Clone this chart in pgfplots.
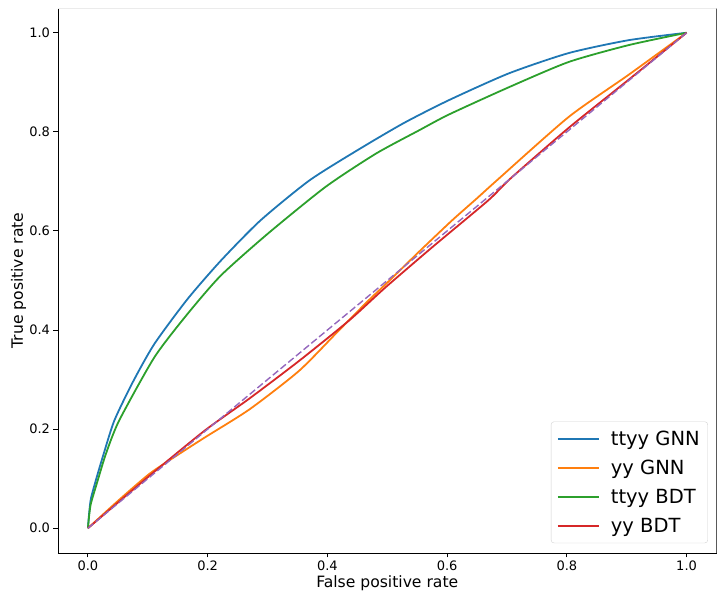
\documentclass[border=0pt]{standalone}
\usepackage{fontspec}
\setmainfont{DejaVu Sans}
\usepackage{pgfplots}
\pgfplotsset{compat=1.18}
\definecolor{tabblue}{RGB}{31,119,180}
\definecolor{taborange}{RGB}{255,127,14}
\definecolor{tabgreen}{RGB}{44,160,44}
\definecolor{tabred}{RGB}{214,39,40}
\definecolor{tabpurple}{RGB}{148,103,189}

\begin{document}
\begin{tikzpicture}
\useasboundingbox (-58pt,-38pt) rectangle (660pt,553pt);
\begin{axis}[
    at={(0,0)}, anchor=south west,
    scale only axis,
    width=658.5pt, height=545pt,
    xmin=-0.05, xmax=1.05, ymin=-0.05, ymax=1.05,
    axis lines=left,
    axis line style={black, line width=0.9pt, -},
    xtick={0,0.2,0.4,0.6,0.8,1.0},
    ytick={0,0.2,0.4,0.6,0.8,1.0},
    tick align=outside,
    major tick length=4.5pt,
    tick style={black, line width=0.9pt},
    /pgf/number format/assume math mode=true,
    xticklabel style={/pgf/number format/.cd, fixed, fixed zerofill, precision=1},
    yticklabel style={/pgf/number format/.cd, fixed, fixed zerofill, precision=1},
    ticklabel style={font=\fontsize{13}{15}\selectfont},
    xlabel={False positive rate},
    ylabel={True positive rate},
    label style={font=\fontsize{15.6}{18}\selectfont},
    xlabel style={at={(axis description cs:0.5,0)}, anchor=base, yshift=-35pt},
    ylabel style={at={(axis description cs:-0.0532,0.5)}, anchor=base},
    legend style={at={(0.987,0.018)}, anchor=south east,
        font=\fontsize{19.5}{22}\selectfont, draw=black!18,
        rounded corners=3pt, inner xsep=6pt, inner ysep=7pt,
        row sep=9.3pt, column sep=9pt},
    legend cell align=left,
    legend image code/.code={\draw[#1] (0pt,0pt) -- (41pt,0pt);},
]
% ttyy GNN
\addplot[tabblue, line width=1.8pt, smooth, tension=0.4] coordinates {
(0,0) (0.002,0.03) (0.005,0.06) (0.014,0.10) (0.025,0.145) (0.044,0.217)
(0.075,0.295) (0.111,0.372) (0.166,0.462) (0.222,0.540) (0.288,0.621)
(0.370,0.702) (0.453,0.765) (0.528,0.818) (0.603,0.864) (0.703,0.918)
(0.803,0.959) (0.903,0.985) (1,1)
};
\addlegendentry{ttyy GNN}
% yy GNN
\addplot[taborange, line width=1.8pt, smooth, tension=0.4] coordinates {
(0,0) (0.05,0.055) (0.103,0.11) (0.150,0.148) (0.195,0.183) (0.270,0.240)
(0.353,0.318) (0.419,0.399) (0.469,0.460) (0.503,0.499) (0.553,0.558)
(0.608,0.621) (0.650,0.666) (0.683,0.702) (0.803,0.830) (0.903,0.915) (1,1)
};
\addlegendentry{yy GNN}
% ttyy BDT
\addplot[tabgreen, line width=1.8pt, smooth, tension=0.4] coordinates {
(0,0) (0.002,0.025) (0.005,0.05) (0.016,0.095) (0.030,0.150) (0.052,0.217)
(0.111,0.345) (0.166,0.432) (0.222,0.510) (0.300,0.594) (0.397,0.689)
(0.481,0.756) (0.553,0.803) (0.603,0.835) (0.703,0.890) (0.803,0.941)
(0.903,0.975) (1,1)
};
\addlegendentry{ttyy BDT}
% yy BDT
\addplot[tabred, line width=1.8pt, smooth, tension=0.4] coordinates {
(0,0) (0.1,0.103) (0.195,0.197) (0.270,0.262) (0.353,0.338) (0.436,0.419)
(0.497,0.486) (0.575,0.567) (0.669,0.662) (0.706,0.706) (0.803,0.808)
(0.903,0.905) (1,1)
};
\addlegendentry{yy BDT}
% chance line
\addplot[tabpurple, line width=1.4pt, dash pattern=on 7pt off 3pt, forget plot] coordinates {(0,0) (1,1)};
% right spine and faint top edge
\draw[black, line width=0.9pt] (rel axis cs:1,0) -- (rel axis cs:1,1);
\draw[black!8, line width=0.9pt] (rel axis cs:0,1) -- (rel axis cs:1,1);
\end{axis}
\end{tikzpicture}
\end{document}
